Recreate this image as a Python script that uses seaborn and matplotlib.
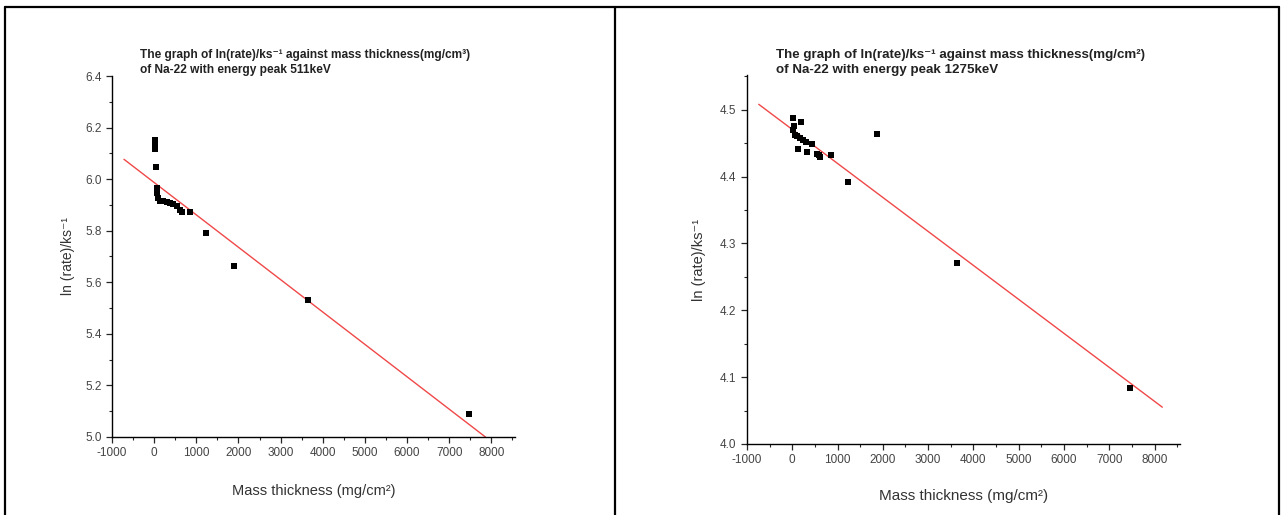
import numpy as np
import pandas as pd
import matplotlib
matplotlib.use("Agg")
import matplotlib.pyplot as plt
from matplotlib.lines import Line2D
from matplotlib.ticker import MultipleLocator
import seaborn as sns

# Na-22, 511 keV peak: mass thickness (mg/cm^2) vs ln(rate)
thickness_511 = [10, 10, 10, 10, 45, 59, 74, 97, 137, 216, 296, 374, 453, 533, 611, 651, 850, 1240, 1900, 3660, 7470]
ln_rate_511 = [6.150, 6.138, 6.126, 6.116, 6.048, 5.964, 5.946, 5.927, 5.917, 5.914, 5.910, 5.907,
               5.903, 5.894, 5.881, 5.872, 5.871, 5.790, 5.665, 5.532, 5.088]
fit_511_slope = -1.256e-4
fit_511_intercept = 5.987
fit_511_span = [-716, 7860]

# Na-22, 1275 keV peak
thickness_1275 = [10, 200, 35, 20, 60, 95, 170, 240, 300, 430, 130, 320, 540, 610, 580, 860, 1240, 1880, 3640, 7450]
ln_rate_1275 = [4.488, 4.481, 4.476, 4.469, 4.462, 4.460, 4.458, 4.455, 4.452, 4.449, 4.442, 4.437,
                4.434, 4.430, 4.433, 4.432, 4.392, 4.463, 4.270, 4.083]
fit_1275_slope = -5.085e-5
fit_1275_intercept = 4.4705
fit_1275_span = [-740, 8170]

x_ticks = [-1000, 0, 1000, 2000, 3000, 4000, 5000, 6000, 7000, 8000]


def draw_panel(ax, x, y, slope, intercept, span, ylim, ystep, label_size, xpad, ypad):
    """Scatter of measured points plus the linear fit, Origin-like axes."""
    df = pd.DataFrame({"thickness": x, "ln_rate": y})
    sns.scatterplot(data=df, x="thickness", y="ln_rate", ax=ax, marker="s",
                    s=24, color="black", edgecolor="black", linewidth=0, zorder=3)

    fit_x = np.array(span, dtype=float)
    fit = pd.DataFrame({"thickness": fit_x, "ln_rate": intercept + slope * fit_x})
    sns.lineplot(data=fit, x="thickness", y="ln_rate", ax=ax, color="#f04848",
                 linewidth=1.0, zorder=2)

    ax.set_xlim(-1000, 8560)
    ax.set_ylim(*ylim)
    ax.set_xticks(x_ticks)
    ax.xaxis.set_minor_locator(MultipleLocator(500))
    ax.yaxis.set_major_locator(MultipleLocator(ystep))
    ax.yaxis.set_minor_locator(MultipleLocator(ystep / 2))
    ax.tick_params(which="major", direction="out", length=4, width=0.9,
                   labelsize=8.5, labelcolor="#444444")
    ax.tick_params(which="minor", direction="out", length=2, width=0.8)
    sns.despine(ax=ax)
    for side in ("left", "bottom"):
        ax.spines[side].set_linewidth(1.0)
        ax.spines[side].set_color("black")

    ax.set_xlabel("Mass thickness (mg/cm²)", fontsize=label_size, color="#333333", labelpad=xpad)
    ax.set_ylabel("ln (rate)/ks⁻¹", fontsize=label_size - 0.5, color="#333333", labelpad=ypad)


sns.set_theme(style="ticks")
plt.rcParams["font.family"] = ["Liberation Sans", "DejaVu Sans"]
plt.rcParams["axes.unicode_minus"] = False

fig = plt.figure(figsize=(12.83, 5.15), dpi=100)
ax1 = fig.add_axes([0.0873, 0.1515, 0.3141, 0.7009])
ax2 = fig.add_axes([0.5822, 0.1379, 0.3375, 0.7165])

draw_panel(ax1, thickness_511, ln_rate_511, fit_511_slope, fit_511_intercept,
           fit_511_span, (5.0, 6.4), 0.2, 10.5, 18, 7)
draw_panel(ax2, thickness_1275, ln_rate_1275, fit_1275_slope, fit_1275_intercept,
           fit_1275_span, (4.0, 4.552), 0.1, 11, 16, 10)

fig.text(0.109, 0.905, "The graph of ln(rate)/ks⁻¹ against mass thickness(mg/cm³)\n"
         "of Na-22 with energy peak 511keV",
         fontsize=8.6, fontweight="bold", ha="left", va="top", linespacing=1.3,
         color="#222222")
fig.text(0.605, 0.905, "The graph of ln(rate)/ks⁻¹ against mass thickness(mg/cm²)\n"
         "of Na-22 with energy peak 1275keV",
         fontsize=9.6, fontweight="bold", ha="left", va="top", linespacing=1.3,
         color="#222222")

# table frame around the two charts
for xs, ys in [([0.004, 0.004], [0.0, 0.986]),
               ([0.4793, 0.4793], [0.0, 0.986]),
               ([0.9969, 0.9969], [0.0, 0.986]),
               ([0.004, 0.9969], [0.986, 0.986])]:
    fig.add_artist(Line2D(xs, ys, color="black", linewidth=1.6))

fig.savefig("out.png", dpi=100)
